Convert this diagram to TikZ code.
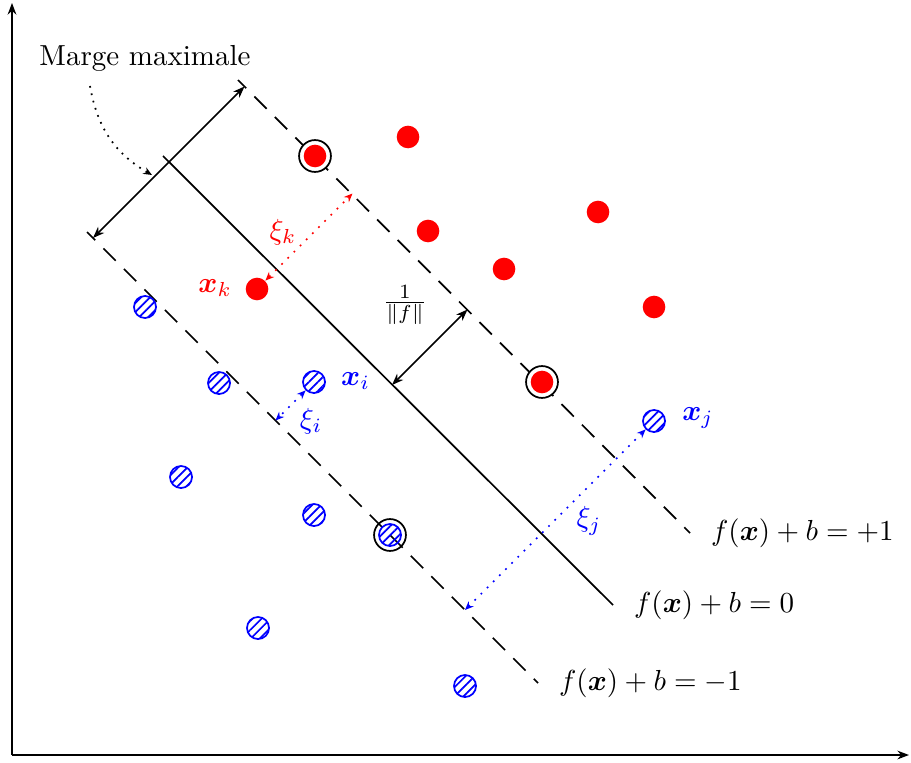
\documentclass[tikz,border=0pt]{standalone}
\usepackage{amsmath}
\usepackage{tikz}
\usetikzlibrary{arrows.meta,patterns.meta,calc}

\begin{document}
\begin{tikzpicture}[x=0.345pt,y=-0.345pt,
  axe/.style={semithick,-{Stealth[length=4pt,width=3pt]}},
  hyp/.style={semithick},
  marg/.style={semithick,dash pattern=on 6pt off 4pt,dash phase=2pt},
  cote/.style={semithick,{Stealth[length=4pt,width=3pt]}-{Stealth[length=4pt,width=3pt]}},
  slack/.style={line width=0.6pt,dash pattern=on 0.6pt off 2.4pt,{Stealth[length=3pt,width=2.5pt]}-{Stealth[length=3pt,width=2.5pt]}},
  rdot/.style={circle,fill=red,inner sep=0pt,minimum size=7.8pt},
  bdot/.style={circle,draw=blue,line width=0.6pt,inner sep=0pt,minimum size=7.6pt,
    pattern={Lines[angle=45,distance=2.2pt,line width=0.6pt]},pattern color=blue},
  ring/.style={circle,draw=black,semithick,fill=white,inner sep=0pt,minimum size=11pt},
  lbl/.style={anchor=west,inner sep=2pt,xshift=5pt}]
  \useasboundingbox (0,0) rectangle (911,763);
  % axes
  \coordinate (O) at (12,755);
  \draw[axe] (O) -- (12,3);
  \draw[axe] (O) -- (909,755);
  % hyperplane and margins
  \coordinate (up1) at (238,80);  \coordinate (up2) at (690,533);
  \coordinate (mid1) at (163,156); \coordinate (mid2) at (613,605);
  \coordinate (lo1) at (87,232);  \coordinate (lo2) at (538,683);
  \draw[marg] (up1) -- (up2) node[lbl] {$f(\boldsymbol{x})+b=+1$};
  \draw[hyp] (mid1) -- (mid2) node[lbl] {$f(\boldsymbol{x})+b=0$};
  \draw[marg] (lo1) -- (lo2) node[lbl] {$f(\boldsymbol{x})+b=-1$};
  % max margin
  \coordinate (mA) at (93,238); \coordinate (mB) at (244.5,86.5);
  \draw[cote] (mA) -- (mB);
  \node (mtxt) at (145,58) {Marge maximale};
  \coordinate (mC) at (152,175);
  \draw[semithick,dotted,-{Stealth[length=3pt,width=2.5pt]}] (90,86) to[bend right=25] (mC);
  % half margin
  \coordinate (hA) at (392,385); \coordinate (hB) at (467.5,309.5);
  \draw[cote] (hA) -- (hB);
  \node (hlab) at (405,305) {$\frac{1}{\|f\|}$};
  % support vectors
  \node[ring] (s1) at (315,156) {};
  \node[ring] (s2) at (542,382) {};
  \node[ring,fill=none] (s3) at (390,535) {};
  % class +1
  \foreach \p [count=\i] in {(315,156),(408,137),(428,231),(598,212),(504,269),(654,307),(542,382)}
    \node[rdot] (r\i) at \p {};
  \node[rdot] (xk) at (257,289) {};
  % class -1
  \foreach \p [count=\i] in {(145,307),(219,383),(181,477),(314,515),(390,535),(258,628),(465,686)}
    \node[bdot] (b\i) at \p {};
  \node[bdot] (xi) at (314,382) {};
  \node[bdot] (xj) at (654,421) {};
  % point labels
  \node[red,anchor=east] at (242,288) {$\boldsymbol{x}_k$};
  \node[blue,anchor=west] at (331,381) {$\boldsymbol{x}_i$};
  \node[blue,anchor=west] at (672,418) {$\boldsymbol{x}_j$};
  % slack variables
  \coordinate (fk) at (352.5,193.5);
  \coordinate (fi) at (275.5,420.5);
  \coordinate (fj) at (465,610);
  \draw[slack,red] (xk) -- (fk);
  \draw[slack,blue] (xi) -- (fi);
  \draw[slack,blue] (xj) -- (fj);
  \node[red] at (283,232) {$\xi_k$};
  \node[blue] at (311,421) {$\xi_i$};
  \node[blue] at (589,521) {$\xi_j$};
\end{tikzpicture}
\end{document}
